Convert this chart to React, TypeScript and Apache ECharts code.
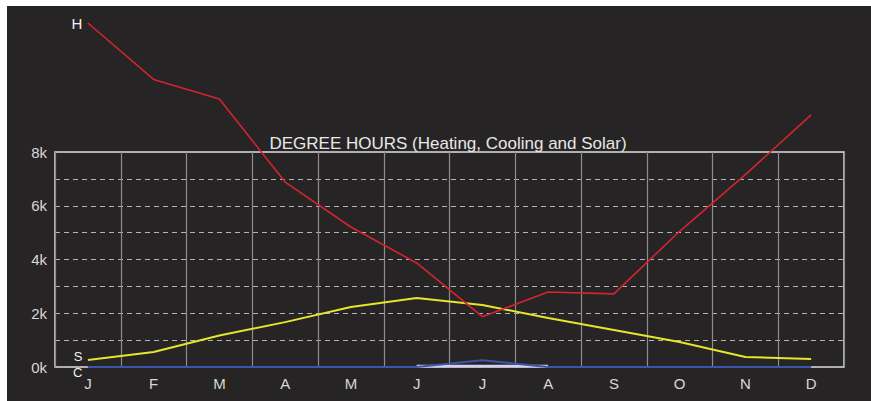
import React, { useEffect, useRef } from "react";
import * as echarts from "echarts";

const months = ["J", "F", "M", "A", "M", "J", "J", "A", "S", "O", "N", "D"];
const heating = [12800, 10700, 9970, 6880, 5210, 3870, 1870, 2790, 2720, 5050, 7160, 9380];
const solar = [260, 560, 1170, 1670, 2230, 2570, 2310, 1820, 1380, 930, 370, 300];
const cooling = [0, 0, 0, 0, 0, 0, 250, 0, 0, 0, 0, 0];
const other = [null, null, null, null, null, 40, 40, 40, null, null, null, null];
const seriesLabels = ["H", "S", "C"];
const titleText = "DEGREE HOURS (Heating, Cooling and Solar)";

const font = "Liberation Sans, Arial, sans-serif";

function withFirstLabel(values: (number | null)[], text: string, offset: number[], size: number) {
  return values.map((v, i) =>
    i === 0
      ? {
          value: v,
          label: {
            show: true,
            position: "left",
            distance: 5,
            offset,
            formatter: text,
            color: "#f0f0f0",
            fontSize: size,
            lineHeight: size,
            fontFamily: font,
          },
        }
      : v
  );
}

export default function App() {
  const ref = useRef<HTMLDivElement>(null);
  useEffect(() => {
    if (!ref.current) return;
    const chart = echarts.init(ref.current, null, { renderer: "svg" });
    const hidden = { color: "rgba(0,0,0,0)", borderWidth: 0 };
    chart.setOption({
      animation: false,
      backgroundColor: "#ffffff",
      graphic: [
        {
          type: "rect",
          z: -10,
          silent: true,
          shape: { x: 7, y: 6, width: 864, height: 395 },
          style: { fill: "#272425" },
        },
      ],
      title: {
        text: titleText,
        left: 443,
        top: 130,
        textAlign: "center",
        textStyle: { color: "#e8e8e8", fontSize: 17, fontWeight: "normal", fontFamily: font },
      },
      grid: {
        left: 55,
        top: 152,
        right: 27,
        bottom: 34,
        show: true,
        borderColor: "#dcdcdc",
        borderWidth: 1.5,
        backgroundColor: "transparent",
      },
      xAxis: {
        type: "category",
        data: months,
        boundaryGap: true,
        axisLine: { show: false },
        axisTick: { show: false },
        axisLabel: { color: "#d8d8d8", fontSize: 15, fontFamily: font, margin: 9 },
        splitLine: { show: true, lineStyle: { color: "#8c8c8c", width: 1.2, type: "solid" } },
      },
      yAxis: {
        type: "value",
        min: 0,
        max: 8000,
        interval: 1000,
        axisLine: { show: false },
        axisTick: { show: false },
        axisLabel: {
          color: "#d8d8d8",
          fontSize: 15,
          fontFamily: font,
          margin: 8,
          formatter: (v: number) => (v % 2000 === 0 ? v / 1000 + "k" : ""),
        },
        splitLine: { show: true, lineStyle: { color: "#b4b4b4", width: 1.2, type: [5, 4] } },
      },
      series: [
        {
          type: "line",
          name: "Other",
          data: other,
          symbol: "none",
          clip: false,
          lineStyle: { color: "#d4d0f4", width: 2.5 },
          z: 3,
        },
        {
          type: "line",
          name: "Cooling",
          data: withFirstLabel(cooling, seriesLabels[2], [0, 5], 13),
          symbol: "circle",
          symbolSize: 1,
          showSymbol: true,
          clip: false,
          lineStyle: { color: "#3a56a8", width: 2 },
          itemStyle: hidden,
          z: 4,
        },
        {
          type: "line",
          name: "Solar",
          data: withFirstLabel(solar, seriesLabels[1], [0, -4], 13),
          symbol: "circle",
          symbolSize: 1,
          showSymbol: true,
          clip: false,
          lineStyle: { color: "#e6e62a", width: 2 },
          itemStyle: hidden,
          z: 5,
        },
        {
          type: "line",
          name: "Heating",
          data: withFirstLabel(heating, seriesLabels[0], [0, 0], 15),
          symbol: "circle",
          symbolSize: 1,
          showSymbol: true,
          clip: false,
          lineStyle: { color: "#d42430", width: 1.6 },
          itemStyle: hidden,
          z: 6,
        },
      ],
    });
    return () => chart.dispose();
  }, []);
  return (
    <div
      ref={ref}
      style={{ position: "fixed", left: 0, top: 0, width: 871, height: 401 }}
    />
  );
}
